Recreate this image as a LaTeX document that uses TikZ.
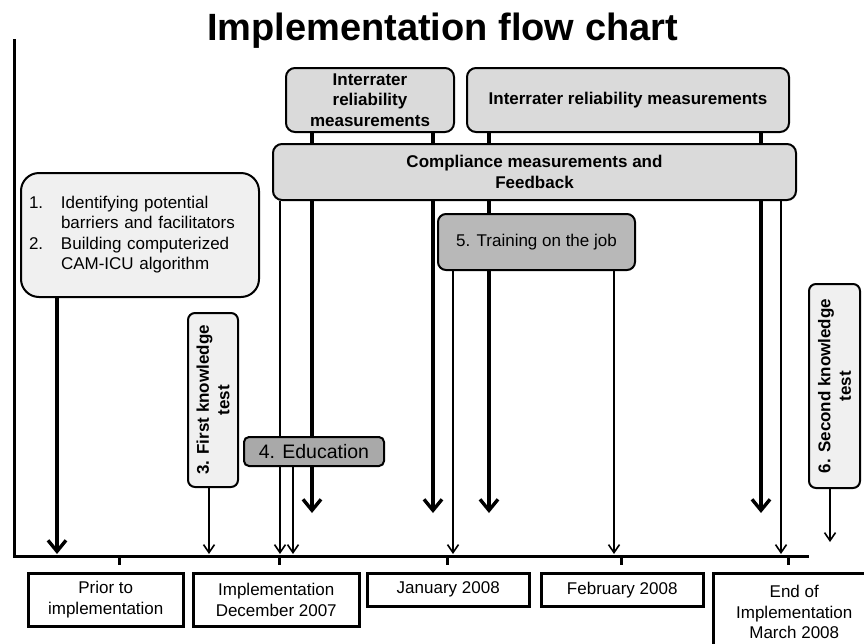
\documentclass[tikz,border=0pt]{standalone}
\usepackage{fontspec}
\setmainfont{Liberation Sans}
\usetikzlibrary{arrows.meta,backgrounds}

\definecolor{boxlight}{HTML}{F0F0F0}
\definecolor{boxgray}{HTML}{DADADA}
\definecolor{boxmid}{HTML}{B8B8B8}
\definecolor{boxdark}{HTML}{A9A9A9}

\newcommand{\txt}{\fontsize{17}{20.5}\selectfont}

\tikzset{
  phase/.style={draw, line width=2pt, rounded corners=9pt, fill=boxgray,
    align=center, inner sep=0pt, font=\txt\bfseries},
  period/.style={draw, line width=2.5pt, align=center, inner sep=0pt,
    anchor=north west, font=\txt},
  thinarrow/.style={line width=1.6pt, -{Straight Barb[length=8pt,width=11pt]}},
  thickarrow/.style={line width=3.4pt, -{Straight Barb[length=11pt,width=18pt]}},
}

\begin{document}
\begin{tikzpicture}[x=1pt,y=-1pt]
  \useasboundingbox (0,0) rectangle (864,643);
  \clip (0,0) rectangle (864,643);

  \node (title) [anchor=base, font=\fontsize{38}{40}\selectfont\bfseries]
    at (442.5,40) {Implementation flow chart};

  % time axis
  \coordinate (ytop) at (14,39);
  \coordinate (origin) at (14,556);
  \coordinate (xend) at (809,556);
  \draw[line width=3pt] (ytop) -- (origin) -- (xend);
  \foreach \x in {119,279,447,621,788}
    \draw[line width=3pt] (\x,556) -- (\x,565);

  % steps
  \node (irrA) [phase, minimum width=168pt, minimum height=64pt] at (370,100)
    {Interrater\\reliability\\measurements};
  \node (irrB) [phase, minimum width=322pt, minimum height=64pt] at (628,100)
    {Interrater reliability measurements};
  \node (comp) [phase, minimum width=523pt, minimum height=56pt] at (534.5,172)
    {Compliance measurements and\\Feedback};

  \node (prep) [draw, line width=2pt, rounded corners=18pt, fill=boxlight,
    minimum height=124pt, text width=222pt, inner sep=8pt, align=left, font=\txt]
    at (140,235) {%
    \begin{tabular}{@{}p{32pt}@{}l@{}}
      1. & Identifying potential\\
         & barriers and facilitators\\
      2. & Building computerized\\
         & CAM-ICU algorithm
    \end{tabular}};

  \node (test1) [draw, line width=2pt, rounded corners=7pt, fill=boxlight,
    rotate=90, minimum width=174pt, minimum height=50pt, inner sep=0pt,
    align=center, font=\txt\bfseries]
    at (213,400) {3. First knowledge\\test};
  \node (educ) [draw, line width=2pt, rounded corners=5pt, fill=boxdark,
    minimum width=140pt, minimum height=29pt, inner sep=0pt,
    font=\fontsize{19.5}{22}\selectfont] at (314,451.5) {4. Education};
  \node (train) [draw, line width=2pt, rounded corners=8pt, fill=boxmid,
    minimum width=197pt, minimum height=56pt, inner sep=0pt, font=\txt]
    at (536.5,242) {5. Training on the job};
  \node (test2) [draw, line width=2pt, rounded corners=7pt, fill=boxlight,
    rotate=90, minimum width=204pt, minimum height=51pt, inner sep=0pt,
    align=center, font=\txt\bfseries]
    at (834.5,386) {6. Second knowledge\\test};

  % periods
  \node (prior) [period, minimum width=155pt, minimum height=53pt] at (27,572)
    {Prior to\\implementation};
  \node (impl) [period, minimum width=166pt, minimum height=53pt] at (192,572)
    {Implementation\\December 2007};
  \node (jan) [period, minimum width=162pt, minimum height=33pt] at (366,572)
    {January 2008};
  \node (feb) [period, minimum width=162pt, minimum height=33pt] at (540,572)
    {February 2008};
  \node (endimpl) [period, minimum width=190pt, minimum height=78pt] at (712,572)
    {\parbox{162pt}{\centering End of\\Implementation\\March 2008}\hspace*{28pt}};

  % arrow ends
  \coordinate (t57) at (57,554);
  \coordinate (t209) at (209,554);
  \coordinate (t280) at (280,554);
  \coordinate (t293) at (293,554);
  \coordinate (t453) at (453,554);
  \coordinate (t614) at (614,554);
  \coordinate (t781) at (781,554);
  \coordinate (e312) at (312,513);
  \coordinate (e433) at (433,513);
  \coordinate (e489) at (489,513);
  \coordinate (e761) at (761,513);
  \coordinate (e830) at (830,542);

  \begin{scope}[on background layer]
    \draw[thickarrow] (prep.south -| t57) -- (t57);
    \draw[thinarrow] (test1.west -| t209) -- (t209);
    \draw[thinarrow] (comp.south -| t280) -- (t280);
    \draw[thinarrow] (educ.south -| t293) -- (t293);
    \draw[thinarrow] (train.south -| t453) -- (t453);
    \draw[thinarrow] (train.south -| t614) -- (t614);
    \draw[thinarrow] (comp.south -| t781) -- (t781);
    \draw[thickarrow] (irrA.south -| e312) -- (e312);
    \draw[thickarrow] (irrA.south -| e433) -- (e433);
    \draw[thickarrow] (irrB.south -| e489) -- (e489);
    \draw[thickarrow] (irrB.south -| e761) -- (e761);
    \draw[thinarrow] (test2.west -| e830) -- (e830);
  \end{scope}
\end{tikzpicture}
\end{document}
